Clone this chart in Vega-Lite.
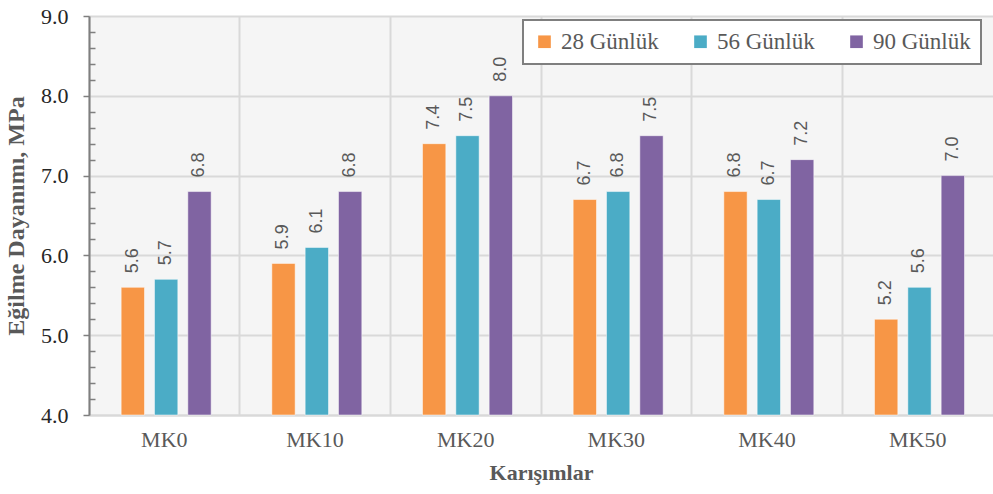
{
  "$schema": "https://vega.github.io/schema/vega-lite/v6.json",
  "autosize": {"type": "none"},
  "padding": {"left": 89, "top": 16, "right": 0, "bottom": 79},
  "width": 904,
  "height": 399,
  "background": "white",
  "config": {
    "view": {"fill": "#f5f5f5", "stroke": null},
    "font": "Liberation Serif",
    "legend": {"strokeColor": "#7f7f7f", "fillColor": "white", "strokeWidth": 2}
  },
  "data": {
    "values": [
      {"mix": "MK0", "age": "28 Günlük", "v": 5.6},
      {"mix": "MK0", "age": "56 Günlük", "v": 5.7},
      {"mix": "MK0", "age": "90 Günlük", "v": 6.8},
      {"mix": "MK10", "age": "28 Günlük", "v": 5.9},
      {"mix": "MK10", "age": "56 Günlük", "v": 6.1},
      {"mix": "MK10", "age": "90 Günlük", "v": 6.8},
      {"mix": "MK20", "age": "28 Günlük", "v": 7.4},
      {"mix": "MK20", "age": "56 Günlük", "v": 7.5},
      {"mix": "MK20", "age": "90 Günlük", "v": 8.0},
      {"mix": "MK30", "age": "28 Günlük", "v": 6.7},
      {"mix": "MK30", "age": "56 Günlük", "v": 6.8},
      {"mix": "MK30", "age": "90 Günlük", "v": 7.5},
      {"mix": "MK40", "age": "28 Günlük", "v": 6.8},
      {"mix": "MK40", "age": "56 Günlük", "v": 6.7},
      {"mix": "MK40", "age": "90 Günlük", "v": 7.2},
      {"mix": "MK50", "age": "28 Günlük", "v": 5.2},
      {"mix": "MK50", "age": "56 Günlük", "v": 5.6},
      {"mix": "MK50", "age": "90 Günlük", "v": 7.0}
    ]
  },
  "encoding": {
    "x": {
      "field": "mix",
      "type": "nominal",
      "sort": null,
      "scale": {"paddingInner": 0, "paddingOuter": 0},
      "axis": {
        "title": "Karışımlar",
        "titleFont": "Liberation Serif",
        "titleFontSize": 22,
        "titleFontWeight": "bold",
        "titleColor": "#595959",
        "titlePadding": 12,
        "labelFont": "Liberation Serif",
        "labelFontSize": 22,
        "labelColor": "#595959",
        "labelAngle": 0,
        "labelPadding": 14,
        "ticks": false,
        "grid": true,
        "bandPosition": 0,
        "gridColor": "#d9d9d9",
        "gridWidth": 2,
        "domainColor": "#d9d9d9",
        "domainWidth": 2
      }
    },
    "xOffset": {
      "field": "age",
      "type": "nominal",
      "scale": {"paddingInner": 0.3, "paddingOuter": 0.91, "align": 0.53}
    },
    "y": {
      "field": "v",
      "type": "quantitative",
      "scale": {"domain": [4, 9], "zero": false, "nice": false},
      "axis": {
        "title": "Eğilme Dayanımı, MPa",
        "titleFont": "Liberation Serif",
        "titleFontSize": 24,
        "titleFontWeight": "bold",
        "titleColor": "#595959",
        "titlePadding": 12,
        "values": [4, 4.2, 4.4, 4.6, 4.8, 5, 5.2, 5.4, 5.6, 5.8, 6, 6.2, 6.4, 6.6, 6.8, 7, 7.2, 7.4, 7.6, 7.8, 8, 8.2, 8.4, 8.6, 8.8, 9],
        "format": ".1f",
        "labelExpr": "abs(datum.value - round(datum.value)) < 0.01 ? datum.label : ''",
        "labelFont": "Liberation Serif",
        "labelFontSize": 22,
        "labelColor": "#262626",
        "labelPadding": 15,
        "tickSize": {"condition": {"test": "abs(datum.value - round(datum.value)) < 0.01", "value": 6}, "value": -6},
        "tickColor": "#7f7f7f",
        "tickWidth": 1.5,
        "domainColor": "#7f7f7f",
        "domainWidth": 2,
        "grid": true,
        "gridColor": "#d9d9d9",
        "gridWidth": 2,
        "gridOpacity": {"condition": {"test": "abs(datum.value - round(datum.value)) < 0.01", "value": 1}, "value": 0}
      }
    }
  },
  "layer": [
    {
      "mark": {"type": "bar", "stroke": "white", "strokeWidth": 0.5},
      "encoding": {
        "y2": {"datum": 4},
        "color": {
          "field": "age",
          "type": "nominal",
          "scale": {"domain": ["28 Günlük", "56 Günlük", "90 Günlük"], "range": ["#F79646", "#4BACC6", "#8064A2"]},
          "legend": {
            "title": null,
            "orient": "none",
            "legendX": 434,
            "legendY": 4,
            "direction": "horizontal",
            "symbolType": "square",
            "symbolSize": 160,
            "symbolStrokeWidth": 0,
            "labelFont": "Liberation Serif",
            "labelFontSize": 23,
            "labelColor": "#595959",
            "columnPadding": 30,
            "labelOffset": 5,
            "padding": 10
          }
        }
      }
    },
    {
      "mark": {
        "type": "text",
        "angle": 270,
        "align": "left",
        "baseline": "middle",
        "dx": 14,
        "font": "Liberation Sans",
        "fontSize": 18,
        "color": "#595959"
      },
      "encoding": {
        "text": {"field": "v", "type": "quantitative", "format": ".1f"}
      }
    }
  ]
}
